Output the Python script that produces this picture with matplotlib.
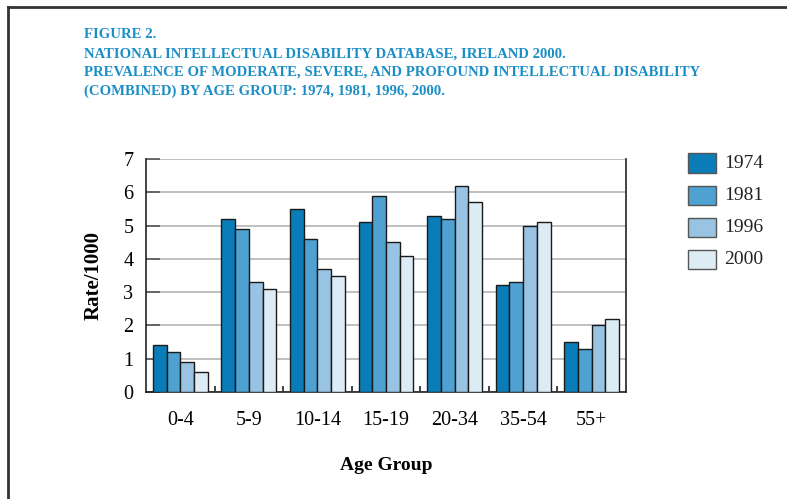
import numpy as np
import matplotlib
matplotlib.use("Agg")
import matplotlib.pyplot as plt
from matplotlib.patches import Rectangle
from matplotlib.lines import Line2D

# data
age_groups = ["0-4", "5-9", "10-14", "15-19", "20-34", "35-54", "55+"]
years = ["1974", "1981", "1996", "2000"]
rate_1974 = [1.4, 5.2, 5.5, 5.1, 5.3, 3.2, 1.5]
rate_1981 = [1.2, 4.9, 4.6, 5.9, 5.2, 3.3, 1.3]
rate_1996 = [0.9, 3.3, 3.7, 4.5, 6.2, 5.0, 2.0]
rate_2000 = [0.6, 3.1, 3.5, 4.1, 5.7, 5.1, 2.2]
yticks = [0, 1, 2, 3, 4, 5, 6, 7]

title_lines = [
    "FIGURE 2.",
    "NATIONAL INTELLECTUAL DISABILITY DATABASE, IRELAND 2000.",
    "PREVALENCE OF MODERATE, SEVERE, AND PROFOUND INTELLECTUAL DISABILITY",
    "(COMBINED) BY AGE GROUP: 1974, 1981, 1996, 2000.",
]

colors = ["#0a7db8", "#4ea1d1", "#98c3e3", "#ddebf5"]
title_color = "#1b8ec6"
serif = ["Liberation Serif", "DejaVu Serif"]

W, H = 787, 499
fig = plt.figure(figsize=(W / 100, H / 100), dpi=100)

# outer frame (top and left lines)
fig.add_artist(Line2D([8 / W, 1], [1 - 7 / H, 1 - 7 / H], color="#333333", lw=2))
fig.add_artist(Line2D([8 / W, 8 / W], [0, 1 - 7 / H], color="#333333", lw=2))

# title
for i, line in enumerate(title_lines):
    fig.text(84 / W, 1 - (35 + i * 18.6) / H, line, color=title_color,
             family=serif, fontweight="bold", fontsize=10.65, va="center",
             ha="left")

ax = fig.add_axes([146 / W, 1 - 392 / H, (626 - 146) / W, (392 - 159) / H])
x = np.arange(len(age_groups))
w = 0.2
series = [rate_1974, rate_1981, rate_1996, rate_2000]
for k, (vals, c) in enumerate(zip(series, colors)):
    ax.bar(x + (k - 1.5) * w, vals, width=w, color=c, edgecolor="#1a1a1a",
           linewidth=1.0, zorder=3)

ax.set_xlim(-0.5, 6.5)
ax.set_ylim(0, 7)
ax.set_yticks(yticks)
ax.set_yticklabels([str(t) for t in yticks], family=serif, fontsize=14.5)
ax.grid(axis="y", color="#b5b5b5", lw=1.2, zorder=0)
ax.tick_params(axis="y", direction="in", length=10, width=1.2,
               color="#555555", pad=9)

# group ticks at boundaries, labels at centres
ax.set_xticks(x[:-1] + 0.5)
ax.set_xticklabels([])
ax.tick_params(axis="x", which="major", direction="in", length=4,
               width=1.2, color="#222222")
ax.set_xticks(x, minor=True)
ax.set_xticklabels(age_groups, minor=True, family=serif, fontsize=14.5)
ax.tick_params(axis="x", which="minor", length=0, pad=14)

ax.spines["top"].set_visible(False)
for s in ["left", "right", "bottom"]:
    ax.spines[s].set_color("#222222")
    ax.spines[s].set_linewidth(1.2)

ax.set_ylabel("Rate/1000", family=serif, fontweight="bold", fontsize=15,
              labelpad=14)
ax.set_xlabel("Age Group", family=serif, fontweight="bold", fontsize=14,
              labelpad=19)

# legend drawn as boxes on the figure
for k, (yr, c) in enumerate(zip(years, colors)):
    yc = 163 + k * 32.3
    fig.add_artist(Rectangle((688 / W, 1 - (yc + 9.5) / H), 28 / W, 19 / H,
                             facecolor=c, edgecolor="#555555", lw=1.0))
    fig.text(724 / W, 1 - yc / H, yr, family=serif, fontsize=14,
             va="center", ha="left", color="#222222")

fig.savefig("out.png", dpi=100)
